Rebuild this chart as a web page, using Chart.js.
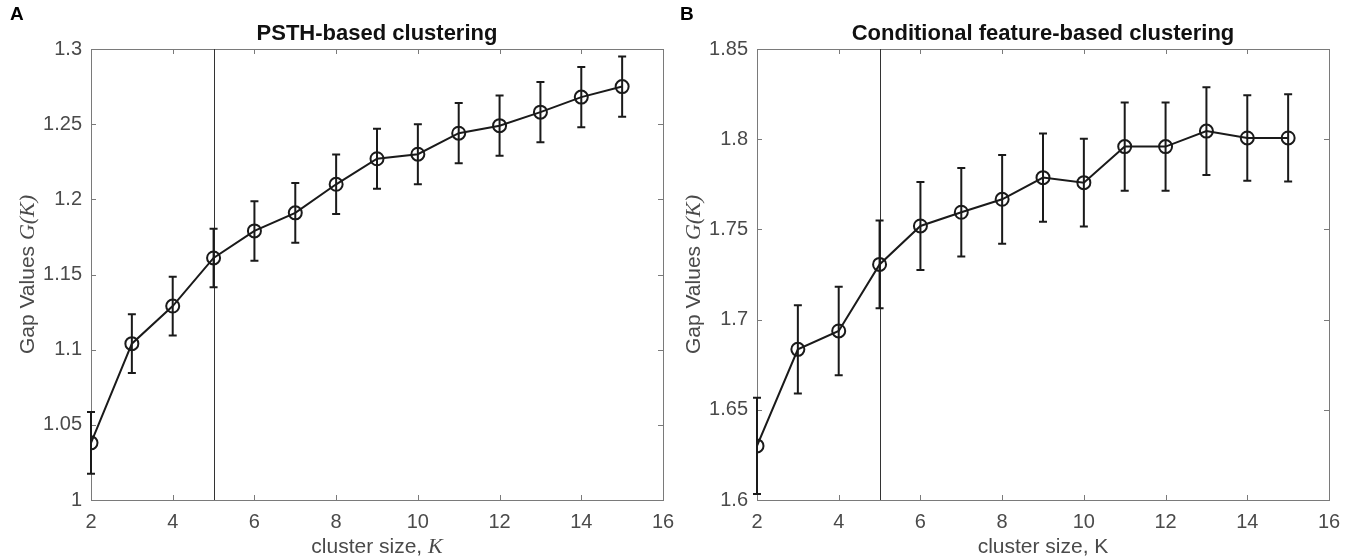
<!DOCTYPE html>
<html><head><meta charset="utf-8">
<script src="https://cdn.jsdelivr.net/npm/chart.js@4.4.1/dist/chart.umd.min.js"></script>
<style>
html,body{margin:0;padding:0;background:#fff;}
#wrap{position:relative;width:1353px;height:558px;overflow:hidden;}
.panel{position:absolute;top:0;height:558px;}
canvas{display:block;}
</style></head><body>
<div id="wrap">
<div class="panel" style="left:0;width:676px"><canvas id="cA" width="676" height="558"></canvas></div>
<div class="panel" style="left:676px;width:677px"><canvas id="cB" width="677" height="558"></canvas></div>
</div>
<script>
// ---- data ----
const clusterSizes = [2, 3, 4, 5, 6, 7, 8, 9, 10, 11, 12, 13, 14, 15];
const psthGap = [1.038, 1.104, 1.129, 1.161, 1.179, 1.191, 1.210, 1.227, 1.230, 1.244, 1.249, 1.258, 1.268, 1.275];
const psthErr = [0.0205, 0.0195, 0.0195, 0.0195, 0.0198, 0.0198, 0.0198, 0.020, 0.020, 0.020, 0.020, 0.020, 0.020, 0.020];
const condGap = [1.630, 1.6835, 1.6937, 1.7306, 1.7519, 1.7595, 1.7667, 1.7787, 1.7759, 1.7959, 1.7959, 1.8045, 1.8007, 1.8007];
const condErr = [0.0267, 0.0244, 0.0245, 0.0243, 0.0244, 0.0245, 0.0246, 0.0244, 0.0243, 0.0245, 0.0245, 0.0243, 0.0237, 0.0242];
const chosenK = 5;
const xTickStep = 2, xMin = 2, xMax = 16;
const psthYMin = 1, psthYMax = 1.3;
const condYMin = 1.6, condYMax = 1.85;
const yTickStep = 0.05;

const SANS = '"Liberation Sans", Arial, Helvetica, sans-serif';
const SERIF = '"Liberation Serif", "Times New Roman", serif';
const INK = '#1a1a1a';
const AXIS = '#7a7a7a';
const LABEL = '#4a4a4a';

function drawPieces(ctx, pieces, x, y, align) {
  let total = 0;
  pieces.forEach(p => { ctx.font = p.font; p.w = ctx.measureText(p.text).width; total += p.w; });
  let cx = align === 'center' ? x - total / 2 : x;
  ctx.textAlign = 'left';
  pieces.forEach(p => { ctx.font = p.font; ctx.fillText(p.text, cx, y); cx += p.w; });
}

function makePanel(id, cfg) {
  const decor = {
    id: 'decor' + id,
    beforeDatasetsDraw(chart) {
      const ctx = chart.ctx, a = chart.chartArea;
      const xs = chart.scales.x, ys = chart.scales.y;
      ctx.save();
      ctx.strokeStyle = AXIS; ctx.lineWidth = 1;
      ctx.strokeRect(Math.round(a.left) + 0.5, Math.round(a.top) + 0.5, Math.round(a.right - a.left), Math.round(a.bottom - a.top));
      const tl = 5;
      ctx.beginPath();
      xs.ticks.forEach(t => {
        const px = Math.round(xs.getPixelForValue(t.value)) + 0.5;
        ctx.moveTo(px, a.bottom); ctx.lineTo(px, a.bottom - tl);
        ctx.moveTo(px, a.top); ctx.lineTo(px, a.top + tl);
      });
      ys.ticks.forEach(t => {
        const py = Math.round(ys.getPixelForValue(t.value)) + 0.5;
        ctx.moveTo(a.left, py); ctx.lineTo(a.left + tl, py);
        ctx.moveTo(a.right, py); ctx.lineTo(a.right - tl, py);
      });
      ctx.stroke();
      const vx = Math.round(xs.getPixelForValue(chosenK)) + 0.5;
      ctx.strokeStyle = '#333'; ctx.lineWidth = 1;
      ctx.beginPath(); ctx.moveTo(vx, a.top); ctx.lineTo(vx, a.bottom); ctx.stroke();
      ctx.strokeStyle = INK; ctx.lineWidth = 2;
      const cap = 4;
      cfg.gap.forEach((g, i) => {
        const px = xs.getPixelForValue(clusterSizes[i]);
        const yt = ys.getPixelForValue(g + cfg.err[i]);
        const yb = ys.getPixelForValue(g - cfg.err[i]);
        ctx.beginPath();
        ctx.moveTo(px, yt); ctx.lineTo(px, yb);
        ctx.moveTo(px - cap, yt); ctx.lineTo(px + cap, yt);
        ctx.moveTo(px - cap, yb); ctx.lineTo(px + cap, yb);
        ctx.stroke();
      });
      ctx.restore();
    },
    afterDraw(chart) {
      const ctx = chart.ctx, a = chart.chartArea;
      ctx.save();
      ctx.textBaseline = 'alphabetic';
      ctx.fillStyle = '#000';
      ctx.font = 'bold 19px ' + SANS;
      ctx.textAlign = 'left';
      ctx.fillText(cfg.letter, cfg.letterX, 20);
      ctx.fillStyle = '#111';
      ctx.font = 'bold 22px ' + SANS;
      ctx.textAlign = 'center';
      ctx.fillText(cfg.title, (a.left + a.right) / 2, 40);
      ctx.fillStyle = LABEL;
      drawPieces(ctx, cfg.xlabel, (a.left + a.right) / 2, 553, 'center');
      ctx.translate(cfg.yLabelX, (a.top + a.bottom) / 2);
      ctx.rotate(-Math.PI / 2);
      drawPieces(ctx, cfg.ylabel, 0, 0, 'center');
      ctx.restore();
    }
  };

  return new Chart(document.getElementById(id), {
    type: 'line',
    data: {
      datasets: [{
        data: clusterSizes.map((k, i) => ({ x: k, y: cfg.gap[i] })),
        borderColor: INK,
        borderWidth: 2,
        pointRadius: 6.5,
        pointBorderWidth: 2,
        pointBorderColor: INK,
        pointBackgroundColor: 'rgba(0,0,0,0)',
        pointStyle: 'circle',
        tension: 0,
        fill: false
      }]
    },
    options: {
      responsive: false,
      animation: false,
      devicePixelRatio: 1,
      layout: { padding: { left: 0, right: cfg.padRight, top: 49, bottom: 0 } },
      plugins: { legend: { display: false }, tooltip: { enabled: false }, title: { display: false } },
      scales: {
        x: {
          type: 'linear', min: xMin, max: xMax,
          afterFit(s) { s.height = 58; s.paddingLeft = 0; s.paddingRight = 0; },
          grid: { display: false, drawTicks: false },
          border: { display: false },
          ticks: { stepSize: xTickStep, padding: 10, color: LABEL, font: { family: SANS, size: 20 }, maxRotation: 0 }
        },
        y: {
          type: 'linear', min: cfg.yMin, max: cfg.yMax,
          afterFit(s) { s.width = cfg.yWidth; s.paddingTop = 0; s.paddingBottom = 0; },
          grid: { display: false, drawTicks: false },
          border: { display: false },
          ticks: {
            stepSize: yTickStep, padding: 9, color: LABEL, font: { family: SANS, size: 20 },
            callback: v => String(+v.toFixed(2))
          }
        }
      }
    },
    plugins: [decor]
  });
}

makePanel('cA', {
  gap: psthGap, err: psthErr, yMin: psthYMin, yMax: psthYMax,
  yWidth: 91, padRight: 13, letter: 'A', letterX: 10,
  title: 'PSTH-based clustering',
  xlabel: [{ text: 'cluster size, ', font: '21px ' + SANS }, { text: 'K', font: 'italic 22px ' + SERIF }],
  ylabel: [{ text: 'Gap Values ', font: '21px ' + SANS }, { text: 'G(K)', font: 'italic 22px ' + SERIF }],
  yLabelX: 34
});
makePanel('cB', {
  gap: condGap, err: condErr, yMin: condYMin, yMax: condYMax,
  yWidth: 81, padRight: 24, letter: 'B', letterX: 4,
  title: 'Conditional feature-based clustering',
  xlabel: [{ text: 'cluster size, K', font: '21px ' + SANS }],
  ylabel: [{ text: 'Gap Values ', font: '21px ' + SANS }, { text: 'G(K)', font: 'italic 22px ' + SERIF }],
  yLabelX: 24
});
</script>
</body></html>
